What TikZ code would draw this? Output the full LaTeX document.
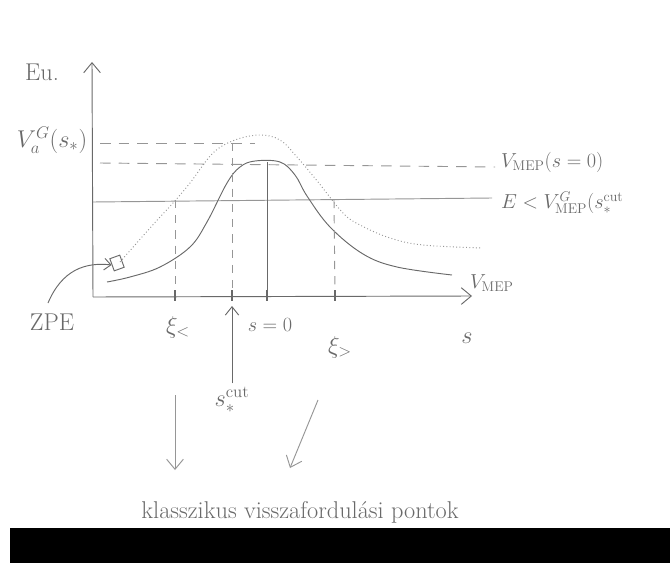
\documentclass[tikz,border=0pt]{standalone}
\usepackage{tikz}
\usetikzlibrary{positioning, arrows.meta}
\usepackage{xcolor}
\definecolor{pencil}{RGB}{105, 105, 105}
\definecolor{pencil_light}{RGB}{150, 150, 150}

\begin{document}
\begin{tikzpicture}[x=0.03cm, y=-0.03cm, font=\LARGE, text=pencil]

      \useasboundingbox (0,0) rectangle (670,563);

      % 1. Ejes (energia y coordenada s)
      \coordinate (origen) at (93,297);
      \coordinate (ytop) at (92,62);
      \coordinate (xend) at (472,296);
      \draw[thick, pencil, -{Straight Barb[length=3mm, width=5mm]}] (origen) -- (ytop);
      \draw[thick, pencil, -{Straight Barb[length=3mm, width=5mm]}] (origen) -- (xend);

      \node[font=\huge] (eu) at (42,72) {Eu.};
      \node[font=\huge] (slab) at (467,338) {$s$};

      % 2. Niveles horizontales
      \coordinate (dtop_a) at (100,143);
      \coordinate (dtop_b) at (255,143);
      \coordinate (dmid_a) at (100,163);
      \coordinate (dmid_b) at (495,167);
      \coordinate (e_a) at (93,202);
      \coordinate (e_b) at (492,198);
      \draw[thick, pencil_light, dash pattern=on 9pt off 7pt] (dtop_a) -- (dtop_b);
      \draw[thick, pencil_light, dash pattern=on 9pt off 7pt] (dmid_a) -- (dmid_b);
      \draw[thick, pencil_light] (e_a) -- (e_b);

      \node[font=\huge] (va) at (52,140) {$V_a^G(s_*)$};
      \node[anchor=west] (vmep0) at (497,162) {$V_{\mathrm{MEP}}(s=0)$};
      \node[anchor=west] (ecut) at (497,203) {$E<V^{G}_{\mathrm{MEP}}(s_*^{\mathrm{cut}}$};

      % 3. Curvas (MEP continua, G punteada)
      \draw[thick, pencil] plot[smooth, tension=0.6] coordinates {
        (107,282) (130,277) (160,267) (190,247) (207,222) (227,183) (240,167)
        (255,161) (280,162) (295,175) (307,196) (330,227) (363,254) (397,267) (452,275)};
      \draw[thick, pencil_light, dotted] plot[smooth, tension=0.6] coordinates {
        (120,262) (150,228) (173,203) (190,183) (213,153) (235,140) (260,135)
        (280,140) (297,157) (318,182) (343,213) (360,225) (390,238) (423,245) (482,248)};

      \node[anchor=west] (vmep) at (466,283) {$V_{\mathrm{MEP}}$};

      % 4. Puntos sobre el eje s
      \coordinate (xil_top) at (175,200);
      \coordinate (xil_bot) at (175,297);
      \coordinate (cut_top) at (232,143);
      \coordinate (cut_bot) at (232,297);
      \coordinate (s0_top) at (267,162);
      \coordinate (s0_bot) at (267,299);
      \coordinate (xig_top) at (334,200);
      \coordinate (xig_bot) at (335,297);
      \draw[thick, pencil_light, dash pattern=on 7pt off 6pt] (xil_top) -- (xil_bot);
      \draw[thick, pencil_light, dash pattern=on 7pt off 6pt] (cut_top) -- (cut_bot);
      \draw[thick, pencil] (s0_top) -- (s0_bot);
      \draw[thick, pencil_light, dash pattern=on 7pt off 6pt] (xig_top) -- (xig_bot);
      \foreach \x in {175, 232, 267, 335}
        \draw[very thick, pencil] (\x,290) -- (\x,301);

      \node[font=\huge] (xil) at (178,327) {$\xi_<$};
      \node (s0) at (270,325) {$s=0$};
      \node[font=\huge] (scut) at (232,400) {$s_*^{\mathrm{cut}}$};
      \node[font=\huge] (xig) at (340,347) {$\xi_>$};
      \coordinate (cut_tip) at (232,306);
      \draw[thick, pencil, -{Straight Barb[length=2.5mm, width=4mm]}] (scut.north) -- (cut_tip);

      % 5. ZPE
      \node[font=\huge] (zpe) at (52,322) {ZPE};
      \node[draw, thick, pencil, rotate=20, minimum width=9pt, minimum height=11pt, inner sep=0pt] (zpemark) at (117,263) {};
      \coordinate (zpe_from) at (48,303);
      \draw[thick, pencil, -{Straight Barb[length=2mm, width=3.5mm]}] (zpe_from) .. controls (62,270) and (85,262) .. (zpemark.west);

      % 6. Puntos de retorno clasicos
      \coordinate (ar1_a) at (175,395);
      \coordinate (ar1_b) at (175,470);
      \coordinate (ar2_a) at (318,400);
      \coordinate (ar2_b) at (290,468);
      \draw[thick, pencil_light, -{Straight Barb[length=3mm, width=5mm]}] (ar1_a) -- (ar1_b);
      \draw[thick, pencil_light, -{Straight Barb[length=3mm, width=5mm]}] (ar2_a) -- (ar2_b);
      \node[font=\huge] (klass) at (300,512) {klasszikus visszafordulási pontok};

      % 7. Borde inferior
      \fill[black] (10,528) rectangle (670,563);

\end{tikzpicture}
\end{document}
